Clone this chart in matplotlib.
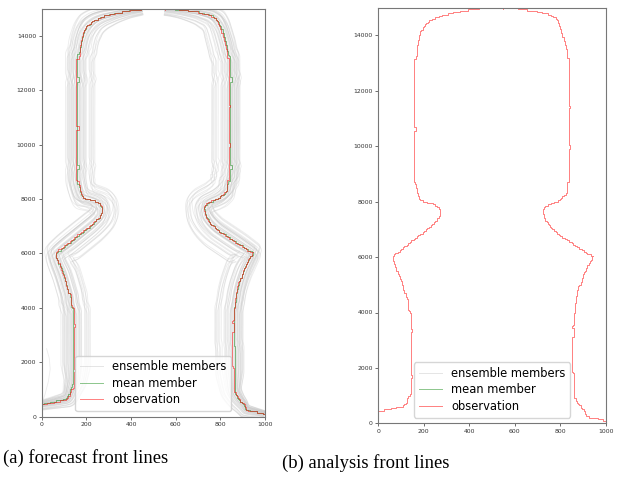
import numpy as np
import matplotlib
matplotlib.use("Agg")
import matplotlib.pyplot as plt
from matplotlib.lines import Line2D

# ---------------------------------------------------------------- data
# observed front, left branch (bottom -> top)
obs_left_x = [0, 113, 122, 132, 144, 144, 152, 152, 144, 144, 152, 152, 144, 144, 132,
              132, 122, 110, 103, 88, 81, 63, 63, 213, 257, 271, 271, 260, 242, 198,
              183, 176, 172, 161, 157, 157, 165, 165, 157, 157, 166, 172, 180, 186,
              198, 213, 235, 271, 330, 389, 447, 452]
obs_left_y = [430, 630, 720, 1000, 1030, 1650, 1650, 1750, 1750, 3300, 3300, 3420, 3420, 4000, 4100,
              4450, 4560, 4880, 5120, 5370, 5550, 5910, 6030, 7000, 7300, 7540, 7710, 7830, 7920, 8010,
              8070, 8190, 8340, 8680, 8720, 10550, 10550, 10700, 10700, 13130, 13140, 13610, 13920, 14100,
              14280, 14440, 14580, 14700, 14820, 14920, 14970, 15000]

# observed front, right branch (bottom -> top)
obs_right_x = [1000, 960, 916, 909, 894, 880, 865, 858, 858, 850, 850, 858, 858, 850, 858,
               865, 872, 880, 894, 902, 916, 924, 938, 943, 916, 872, 828, 784, 755, 733,
               723, 740, 770, 799, 814, 828, 831, 840, 840, 846, 846, 840, 840, 846, 846,
               840, 840, 831, 826, 821, 811, 802, 792, 784, 755, 696, 623, 600, 552, 552]
obs_right_y = [110, 180, 240, 420, 540, 720, 900, 960, 1810, 1850, 3100, 3100, 3450, 3450, 3550,
               4220, 4580, 4880, 5120, 5370, 5550, 5730, 5910, 6030, 6150, 6390, 6630, 6870, 7120, 7360,
               7720, 7850, 7950, 8070, 8190, 8310, 8680, 8700, 9900, 9900, 10050, 10050, 11400, 11400, 11450,
               11450, 13190, 13200, 13600, 13700, 13980, 14280, 14450, 14580, 14750, 14880, 14960, 15000, 15000, 14930]

# ensemble-mean front, left branch
mean_left_x = [0, 110, 120, 130, 140, 140, 130, 128, 120, 110, 101, 90, 78, 66, 66,
               215, 256, 268, 268, 256, 240, 196, 182, 174, 168, 160, 160, 165, 165, 160,
               160, 166, 166, 160, 160, 170, 174, 181, 188, 200, 216, 238, 272, 330, 390,
               446, 452]
mean_left_y = [460, 650, 760, 1050, 1250, 3950, 4050, 4400, 4600, 4900, 5150, 5400, 5600, 5880, 6000,
               6980, 7290, 7500, 7700, 7830, 7920, 8010, 8080, 8200, 8400, 8650, 9100, 9100, 9250, 9250,
               12300, 12300, 12500, 12500, 13300, 13400, 13700, 13900, 14100, 14300, 14450, 14590, 14710, 14830, 14925,
               14975, 15000]

# ensemble-mean front, right branch
mean_right_x = [1000, 958, 916, 906, 890, 876, 864, 864, 860, 860, 866, 872, 882, 893, 904,
                915, 926, 940, 946, 918, 874, 830, 786, 756, 735, 726, 742, 772, 800, 816,
                830, 834, 846, 846, 852, 852, 846, 846, 852, 852, 846, 846, 836, 828, 816,
                806, 795, 786, 758, 700, 620, 548]
mean_right_y = [100, 190, 260, 430, 560, 740, 920, 2600, 2600, 4000, 4100, 4500, 4850, 5120, 5380,
                5560, 5740, 5920, 6030, 6160, 6400, 6640, 6880, 7120, 7360, 7700, 7850, 7950, 8070, 8190,
                8310, 8650, 8680, 9100, 9100, 9250, 9250, 12300, 12300, 12500, 12500, 13200, 13300, 13650, 13980,
                14280, 14450, 14580, 14750, 14880, 14960, 15000]

# ensemble members: x position of each member's left / right front at y = 10000,
# and the vertical displacement of each member's front
member_left_x10k = [106, 113, 116, 122, 124, 131, 133, 138, 142, 143, 147, 150, 152, 157, 159,
                    161, 166, 168, 170, 175, 177, 182, 186, 188, 193, 197, 199, 212, 216, 221,
                    224, 229, 233, 238, 119, 128, 136, 154, 172, 190]
member_right_x10k = [888, 884, 883, 878, 875, 871, 870, 866, 862, 861, 857, 854, 853, 849, 846,
                     844, 840, 838, 835, 831, 829, 824, 820, 817, 812, 806, 802, 790, 783, 778,
                     772, 768, 764, 761, 880, 873, 864, 851, 833, 809]
member_dy = [60, -120, 180, -40, 90, -200, 30, 140, -80, 0, 210, -150, 70, -30, 120,
             -100, 40, 160, -60, 10, -180, 100, -20, 150, -130, 50, -70, 190, -10, 80,
             -160, 130, -90, 20, 170, -50, 110, -140, 0, 60]

# one member whose front hugs the western boundary near the bottom
stray_x = [-5, 14, 30, 38, 34, 22]
stray_y = [380, 800, 1300, 1750, 2150, 2500]

x_ticks = [0, 200, 400, 600, 800, 1000]
y_ticks = [0, 2000, 4000, 6000, 8000, 10000, 12000, 14000]
legend_labels = ["ensemble members", "mean member", "observation"]
captions = ["(a) forecast front lines", "(b) analysis front lines"]

# ---------------------------------------------------------------- styles
GRAY = dict(color="#c4c4c4", alpha=0.32, lw=0.6)
GREEN = dict(color="#008000", alpha=0.45, lw=0.7)
RED = dict(color="#ff0000", alpha=0.5, lw=0.7)

# vertical units -> horizontal units so that geometry is done in screen proportions
ASPECT = (408.0 / 15000.0) / (224.0 / 1000.0)


def staircase(xs, ys, dx=5.0, dy=50.0):
    """Snap a polyline onto the model grid and draw it as cell edges."""
    xs = np.asarray(xs, float)
    ys = np.asarray(ys, float)
    px, py = [], []
    for i in range(len(xs) - 1):
        n = int(max(abs(xs[i + 1] - xs[i]) / dx, abs(ys[i + 1] - ys[i]) / dy) * 3) + 1
        t = np.linspace(0.0, 1.0, n, endpoint=False)
        px.extend(xs[i] + t * (xs[i + 1] - xs[i]))
        py.extend(ys[i] + t * (ys[i + 1] - ys[i]))
    px.append(xs[-1])
    py.append(ys[-1])
    qx = np.round(np.array(px) / dx) * dx
    qy = np.round(np.array(py) / dy) * dy
    sx, sy = [qx[0]], [qy[0]]
    for x, y in zip(qx[1:], qy[1:]):
        if x == sx[-1] and y == sy[-1]:
            continue
        if x != sx[-1] and y != sy[-1]:
            sx.append(sx[-1])
            sy.append(y)
        sx.append(x)
        sy.append(y)
    return np.array(sx), np.array(sy)


def resample(xs, ys, step=2.0):
    u = np.asarray(xs, float)
    v = np.asarray(ys, float) * ASPECT
    s = np.concatenate([[0.0], np.cumsum(np.hypot(np.diff(u), np.diff(v)))])
    grid = np.arange(0.0, s[-1] + step, step)
    return np.interp(grid, s, u), np.interp(grid, s, v), grid


def smooth(a, w):
    pad = np.pad(a, (w // 2, w - 1 - w // 2), mode="edge")
    return np.convolve(pad, np.ones(w) / w, mode="valid")


def members(xs, ys, x10k_list, dy_list, side):
    u, v, s = resample(xs, ys)
    bu, bv = smooth(u, 12), smooth(v, 12)
    nu_, nv_ = smooth(u, 90), smooth(v, 90)
    du, dv = np.gradient(nu_), np.gradient(nv_)
    norm = np.hypot(du, dv) + 1e-9
    if side == "left":
        nx, ny = dv / norm, -du / norm
    else:
        nx, ny = -dv / norm, du / norm
    # displacement shrinks towards both ends of the front
    d_end = np.minimum(s, s[-1] - s)
    taper = np.clip(d_end / 260.0, 0, 1) ** 1.5
    taper_y = 0.35 + 0.65 * taper
    idx = np.argmin(np.abs(bv - 10000 * ASPECT))
    base_x = bu[idx]
    out = []
    for x10k, shift in zip(x10k_list, dy_list):
        off = (x10k - base_x) if side == "left" else (base_x - x10k)
        mx = bu + off * taper_y * nx
        my = (bv + off * taper_y * ny) / ASPECT + shift * taper
        out.append((mx, my))
    return out


def style_axes(ax):
    ax.set_xlim(0, 1000)
    ax.set_ylim(0, 15000)
    ax.set_xticks(x_ticks)
    ax.set_yticks(y_ticks)
    ax.tick_params(labelsize=4.4, length=2.5, width=0.5, pad=1.5, colors="#333333")
    for sp in ax.spines.values():
        sp.set_color("#777777")
        sp.set_linewidth(0.8)


def add_legend(ax):
    handles = [Line2D([], [], color="#c4c4c4", alpha=0.45, lw=0.7),
               Line2D([], [], **GREEN), Line2D([], [], **RED)]
    ax.legend(handles, legend_labels, loc="lower center", fontsize=8.3,
              handlelength=2.0, borderpad=0.4, labelspacing=0.3,
              framealpha=0.8, edgecolor="#cccccc")


fig = plt.figure(figsize=(6.24, 4.82), dpi=100)
ax_a = fig.add_axes([41.7 / 624, 1 - 416.7 / 482, 223.3 / 624, 408 / 482])
ax_b = fig.add_axes([378.3 / 624, 1 - 423.3 / 482, 227.3 / 624, 415.5 / 482])

# (a) forecast: ensemble members, ensemble mean, observation
for mx, my in members(mean_left_x, mean_left_y, member_left_x10k, member_dy, "left"):
    ax_a.plot(mx, my, **GRAY)
for mx, my in members(mean_right_x, mean_right_y, member_right_x10k, member_dy, "right"):
    ax_a.plot(mx, my, **GRAY)
ax_a.plot(stray_x, stray_y, **GRAY)

for xs, ys in [(mean_left_x, mean_left_y), (mean_right_x, mean_right_y)]:
    sx, sy = staircase(xs, ys)
    ax_a.plot(sx, sy, **GREEN)
for xs, ys in [(obs_left_x, obs_left_y), (obs_right_x, obs_right_y)]:
    sx, sy = staircase(xs, ys)
    ax_a.plot(sx, sy, **RED)

# (b) analysis: observed front only
for xs, ys in [(obs_left_x, obs_left_y), (obs_right_x, obs_right_y)]:
    sx, sy = staircase(xs, ys)
    ax_b.plot(sx, sy, **RED)

for ax in (ax_a, ax_b):
    style_axes(ax)
    add_legend(ax)

fig.text(3 / 624, 1 - 463 / 482, captions[0], family="Liberation Serif",
         fontsize=13.4, ha="left", va="baseline")
fig.text(282 / 624, 1 - 468 / 482, captions[1], family="Liberation Serif",
         fontsize=13.4, ha="left", va="baseline")

fig.savefig("out.png", dpi=100)
